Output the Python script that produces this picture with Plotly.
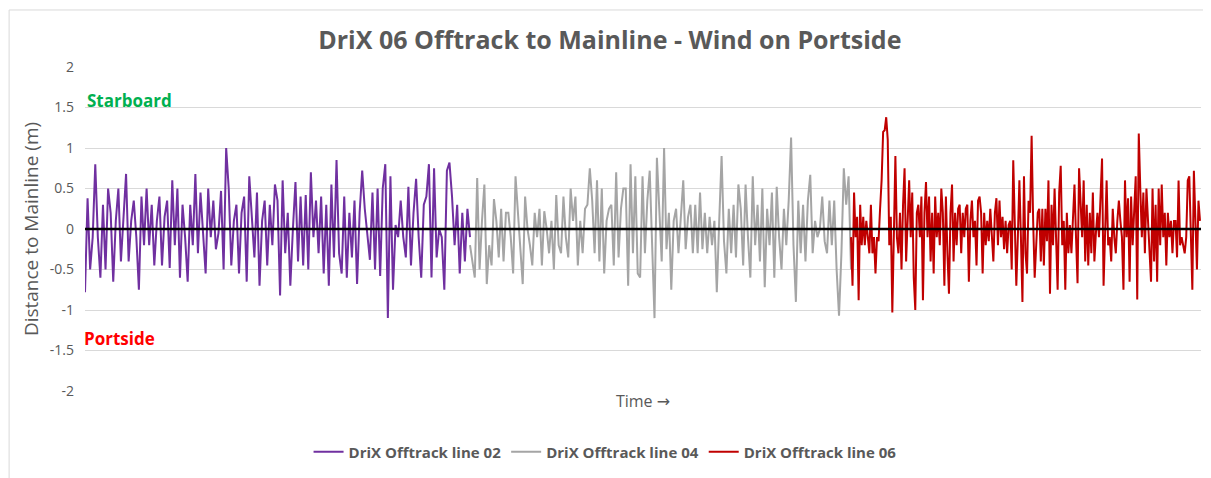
import numpy as np
import plotly.graph_objects as go

# %% Data (offtrack distance in metres)
series_names = ['DriX Offtrack line 02', 'DriX Offtrack line 04', 'DriX Offtrack line 06']
series_colors = ['#7030A0', '#A5A5A5', '#C00000']

# segment start / end along the shared time axis
seg_start = [0, 385, 766]
seg_end = [385, 766, 1115]

line02 = [
    -0.78, 0.38, -0.5, -0.1, 0.8, -0.1, -0.6, 0.3, -0.5, 0.5,
    0.2, -0.65, 0.1, 0.5, -0.4, 0.2, 0.68, -0.4, 0.1, 0.35,
    -0.1, -0.75, 0.4, -0.2, 0.5, -0.2, 0.3, -0.45, 0.1, 0.4,
    -0.45, 0.15, 0.35, -0.48, 0.6, -0.2, 0.5, -0.6, 0.3, -0.1,
    -0.65, 0.3, -0.2, 0.68, -0.3, 0.45, 0.0, -0.55, 0.5, -0.1,
    0.35, -0.25, -0.05, 0.47, -0.5, 1.0, 0.5, -0.45, 0.1, 0.3,
    -0.55, 0.2, 0.4, -0.65, 0.65, 0.2, -0.35, 0.45, -0.7, 0.1,
    0.35, -0.45, 0.3, -0.2, 0.55, 0.35, -0.82, 0.6, -0.3,
    0.2, -0.7, 0.0, 0.58, -0.4, 0.4, -0.45, 0.42, -0.5, 0.7,
    -0.1, 0.35, -0.3, 0.4, -0.55, 0.3, -0.7, 0.55, -0.35, 0.85,
    -0.3, -0.55, 0.4, -0.6, 0.2, -0.35, 0.35, -0.68, 0.2, 0.72,
    0.25, -0.1, -0.38, 0.45, -0.5, 0.5, -0.58, 0.5, 0.8, -1.1,
    0.65, -0.75, 0.05, -0.1, 0.35, -0.1, -0.35, 0.52, -0.45, 0.2,
    0.62, -0.1, -0.6, 0.3, 0.4, 0.8, -0.6, 0.75, -0.35, 0.0,
    -0.1, -0.75, 0.72, 0.82, 0.4, -0.2, 0.3, -0.55, 0.2,
    -0.4, 0.25, -0.1,
]

line04 = [
    -0.2, -0.4, -0.6, 0.63, -0.5, 0.1, 0.55, -0.68, -0.2, -0.45,
    0.37, 0.1, -0.35, 0.25, -0.4, 0.2, 0.2, -0.1, -0.55, 0.65,
    0.2, -0.2, -0.68, 0.4, 0.0, -0.2, -0.45, 0.2, -0.1, 0.25,
    -0.45, 0.22, 0.0, -0.3, 0.1, -0.5, 0.42, -0.2, -0.3, 0.4,
    -0.1, -0.35, 0.5, 0.1, 0.4, -0.45, 0.1, -0.3, 0.25, 0.3,
    0.75, 0.35, -0.3, 0.6, -0.4, 0.5, -0.55, 0.1, 0.25, 0.3,
    -0.45, 0.7, -0.35, 0.25, 0.5, 0.5, -0.7, 0.8, -0.3, 0.65,
    -0.55, -0.6,
    0.65, -0.3, 0.35, 0.72, -0.3, -1.1, 0.88, 0.2, -0.4, 1.0,
    -0.25, 0.2, -0.75, 0.1, 0.25, -0.3, 0.1, 0.6, -0.25, 0.15,
    0.3, -0.3, 0.3, -0.3, 0.45, -0.25, 0.2, -0.3, 0.15, -0.2,
    0.1, -0.78, 0.1, 0.9, -0.15, -0.55, 0.25, -0.3, 0.3, -0.35,
    0.55, 0.25, -0.45, 0.55, -0.1, -0.6, 0.65, -0.2, 0.3, -0.4,
    0.5, -0.72, 0.25, -0.2, 0.45, -0.6, 0.52, -0.1, -0.5, 0.25,
    -0.2, 0.35, 1.13, -0.2, -0.9, 0.35, -0.3, 0.3, -0.4, 0.35,
    0.67, -0.3, 0.1, -0.1, 0.0, 0.4, -0.15, -0.3, 0.35, -0.2,
    0.35, -0.5, -1.07, -0.3, 0.75, 0.3, 0.65, -0.5,
]

line06 = [
    -0.1, -0.7, 0.45, -0.1, 0.15, -0.88, 0.3, -0.2, 0.15, -0.2,
    0.1, -0.1, -0.3, 0.3, -0.3, -0.1, -0.55, -0.1, -0.15, 0.25,
    0.6, 1.2, 1.22, 1.38, 1.1, -0.2, 0.15, -1.03, 0.2, 0.9,
    -0.1, -0.3, 0.2, -0.5, 0.3, 0.75, -0.4, 0.2, 0.6, -0.1,
    0.45, -0.6, -1.0, 0.2, 0.3, -0.1, 0.4, -0.88, 0.2, 0.58,
    -0.1, 0.4, -0.4, 0.2, -0.55, 0.4, -0.1, 0.2, -0.2, 0.5,
    0.2, -0.7, 0.4, -0.3, -0.8, 0.2, 0.55, -0.4, 0.2, -0.2,
    0.25, 0.3, -0.3, 0.2, -0.1, 0.25, 0.3, -0.65, 0.1, 0.35,
    -0.1, 0.1, -0.45, 0.35, 0.4, 0.2, -0.55, 0.2, -0.2, 0.1,
    -0.15, 0.25, -0.1, -0.4, 0.2, 0.38, -0.2, 0.35, -0.1, 0.15,
    -0.25, 0.1, -0.3, 0.05, 0.1, -0.5, 0.85, 0.2, -0.7, -0.1,
    0.6, -0.1, -0.9, 0.65, -0.3, -0.55, 0.35, 0.2, 1.15, 0.1,
    -0.6, -0.2, 0.2, 0.25, -0.4, 0.25, -0.45, 0.25, -0.15, 0.6,
    -0.8, 0.3, -0.2, 0.5, -0.15, -0.75, 0.45, 0.78, -0.2, 0.1,
    -0.75, 0.2, -0.3, 0.05, -0.3, 0.15, 0.55, -0.1, -0.67, 0.75,
    0.2, -0.1, 0.6, -0.4, 0.3, -0.45, 0.2, -0.3, 0.45, -0.4,
    -0.05, 0.2, -0.1, 0.3, 0.87, -0.7, 0.1, 0.6, -0.2, -0.1,
    -0.4, 0.25, -0.1, -0.3, 0.1, 0.35, 0.1, -0.1, -0.75, 0.6,
    -0.1, 0.38, -0.65, 0.4, -0.2, 0.2, 0.65, -0.87, 1.18, 0.5,
    -0.1, 0.45, -0.3, 0.5, 0.05, -0.2, -0.65, 0.5, -0.4, 0.3,
    -0.65, 0.5, -0.2, 0.55, -0.1, 0.2, -0.45, 0.2, -0.1, 0.1,
    -0.3, 0.1, 0.1, -0.35, 0.6, -0.2, -0.1, -0.2, -0.3, -0.1,
    0.6, 0.65, -0.1, -0.75, 0.72, 0.2, -0.5, 0.35, 0.1,
]

y_ticks = [-2, -1.5, -1, -0.5, 0, 0.5, 1, 1.5, 2]
y_tick_labels = ['-2', '-1.5', '-1', '-0.5', '0', '0.5', '1', '1.5', '2']

# %% Figure
text_grey = '#595959'
fig = go.Figure()

for name, color, vals, t0, t1 in zip(series_names, series_colors,
                                     [line02, line04, line06], seg_start, seg_end):
    t = np.linspace(t0, t1, len(vals))
    fig.add_trace(go.Scatter(x=t, y=vals, mode='lines', name=name,
                             line=dict(color=color, width=2)))

# mainline
fig.add_hline(y=0, line=dict(color='black', width=2.5), layer='above')

# side labels
fig.add_annotation(x=0, y=1.59, xref='x', yref='y', xanchor='left', showarrow=False,
                   text='Starboard', font=dict(color='#00B050', size=17, weight='bold'), xshift=0)
fig.add_annotation(x=0, y=-1.35, xref='x', yref='y', xanchor='left', showarrow=False,
                   text='Portside', font=dict(color='#FF0000', size=17, weight='bold'), xshift=-3)

# chart-area border (only left/top edges fall inside the picture)
fig.add_shape(type='rect', xref='paper', yref='paper',
              x0=-0.068, x1=1.03, y0=-0.35, y1=1.176,
              line=dict(color='#D9D9D9', width=1), layer='below')

# the page body adds an 8px offset, so margins are shifted to compensate
fig.update_layout(
    width=1211, height=478,
    margin=dict(l=77, r=18, t=59, b=95),
    paper_bgcolor='white', plot_bgcolor='white',
    font=dict(family='Open Sans, Noto Sans, DejaVu Sans, sans-serif', color=text_grey),
    title=dict(text='DriX 06 Offtrack to Mainline - Wind on Portside',
               x=0.497, xanchor='center', y=0.933, yanchor='middle',
               font=dict(size=25, color=text_grey, weight='bold')),
    xaxis=dict(range=[0, 1116], showgrid=False, zeroline=False, showticklabels=False,
               ticks='', showline=False,
               title=dict(text='Time \u2192',
                          font=dict(size=16, color=text_grey,
                                    family='Open Sans, DejaVu Sans, sans-serif'),
                          standoff=4)),
    yaxis=dict(range=[-2, 2], tickvals=y_ticks, ticktext=y_tick_labels,
               showgrid=True, gridcolor='#D9D9D9', gridwidth=1, zeroline=False,
               showline=False, ticks='', ticklabelstandoff=10,
               tickfont=dict(size=14, color=text_grey),
               title=dict(text='Distance to Mainline (m)', font=dict(size=19, color=text_grey),
                          standoff=6)),
    legend=dict(orientation='h', x=0.466, xanchor='center', y=-0.188, yanchor='middle',
                font=dict(size=15, color=text_grey, weight='bold'),
                itemwidth=30, tracegroupgap=0),
    showlegend=True,
)

fig.write_html("out.html")
